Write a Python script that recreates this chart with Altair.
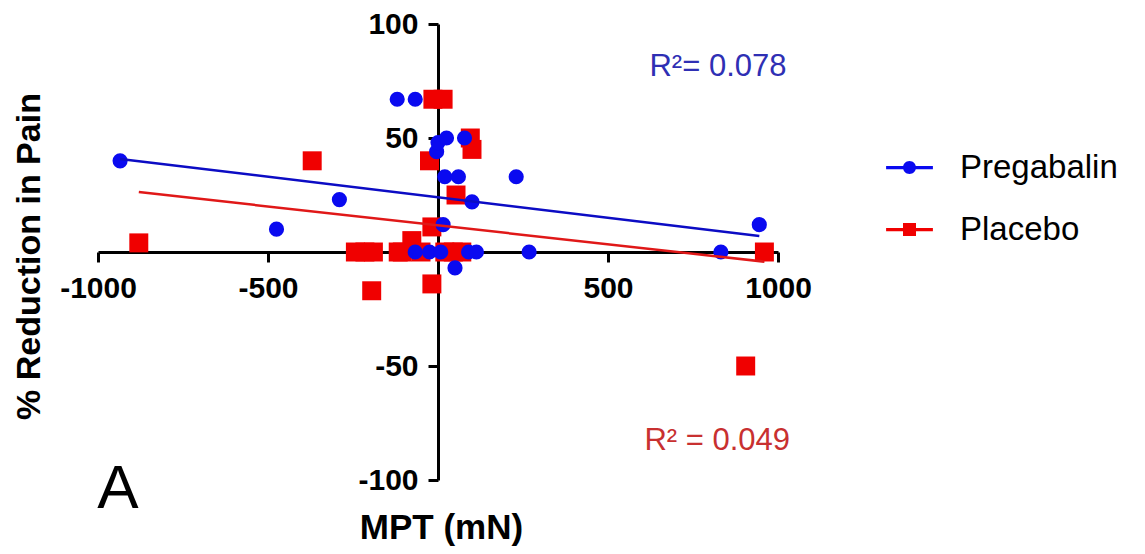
import altair as alt
import pandas as pd

# ---- data ----
groups = ["Pregabalin", "Placebo"]

preg_x = [-935, -475, -290, -120, -67, -67, -25, -4, 0, 25, 78, 20, 60, 100, 15, 8, 90, 113, 50, 230, 268, 832, 945]
preg_y = [40, 10, 23, 67, 67, 0, 0, 44, 48, 50, 50, 33, 33, 22, 12, 0, 0, 0, -7, 33, 0, 0, 12]

plac_x = [-880, -370, -15, 15, 95, 100, -25, 53, -18, -77, -243, -215, -190, -117, -105, -50, 20, 45, 70, -195, -18, 905, 960]
plac_y = [4, 40, 67, 67, 50, 45, 40, 25, 11, 5, 0, 0, 0, 0, 0, 0, 0, 0, 0, -17, -14, -50, 0]

x_ticks = [-1000, -500, 500, 1000]
y_ticks = [-100, -50, 50, 100]

r2_labels = ["R\u00b2= 0.078", "R\u00b2 = 0.049"]
r2_x = [622, 607]
r2_y = [77, -87]

point_colors = ["#0a0af0", "#f00000"]
line_colors = ["#0c0cc4", "#e01818"]
text_colors = ["#2f2fb4", "#c83030"]

# ---- tables ----
df = pd.concat([
    pd.DataFrame({"mpt": plac_x, "red": plac_y, "group": "Placebo"}),
    pd.DataFrame({"mpt": preg_x, "red": preg_y, "group": "Pregabalin"}),
], ignore_index=True)

W, H = 680, 456
FONT = "Liberation Sans"

xs = alt.Scale(domain=[-1000, 1000], nice=False, zero=False)
ys = alt.Scale(domain=[-100, 100], nice=False, zero=False)

axis_common = dict(
    grid=False, domainColor="black", domainWidth=3, tickColor="black", tickWidth=3,
    tickSize=10, labelFont=FONT, labelFontWeight="bold", labelFontSize=30, labelColor="black",
    labelOverlap=False, labelFlush=False, labelExpr="'' + datum.value",
    titleFont=FONT, titleFontWeight="bold", titleColor="black",
)

x_enc = alt.X("mpt:Q", scale=xs, axis=alt.Axis(
    values=x_ticks, offset=-H / 2, title="MPT (mN)", titleFontSize=35,
    titleX=343, titleY=286, titleBaseline="alphabetic", titleAlign="center",
    labelPadding=11, **axis_common))
y_enc = alt.Y("red:Q", scale=ys, axis=alt.Axis(
    values=y_ticks, offset=-W / 2, title="% Reduction in Pain", titleFontSize=34,
    titleAngle=270, titleX=-399, titleY=232, titleBaseline="alphabetic", titleAlign="center",
    labelPadding=10, **axis_common))

# legend symbols: a line segment with the marker in its middle
circle_line = "M-3.6,-0.25L3.6,-0.25L3.6,0.25L-3.6,0.25ZM1,0A1,1,0,1,1,-1,0A1,1,0,1,1,1,0Z"
square_line = "M-3.6,-0.25L3.6,-0.25L3.6,0.25L-3.6,0.25ZM-1,-1L1,-1L1,1L-1,1Z"

legend = alt.Legend(
    title=None, orient="none", legendX=795, legendY=127, padding=0,
    symbolSize=169, symbolOffset=0, labelOffset=34, labelFont=FONT, labelFontSize=33,
    labelColor="black", labelLimit=400, rowPadding=28, symbolStrokeWidth=0, symbolOpacity=1,
)

points = alt.Chart(df).mark_point(filled=True, opacity=1, strokeWidth=0).encode(
    x=x_enc, y=y_enc,
    color=alt.Color("group:N", scale=alt.Scale(domain=groups, range=point_colors), legend=None),
    shape=alt.Shape("group:N", scale=alt.Scale(domain=groups, range=["circle", "square"]), legend=None),
    size=alt.Size("group:N", scale=alt.Scale(type="ordinal", domain=groups, range=[230, 360]), legend=None),
)

legend_layer = alt.Chart(df).mark_point(filled=True, opacity=0, size=1, strokeWidth=0).encode(
    x=x_enc, y=y_enc,
    color=alt.Color("group:N", scale=alt.Scale(domain=groups, range=point_colors), legend=legend),
    shape=alt.Shape("group:N", scale=alt.Scale(domain=groups, range=[circle_line, square_line]), legend=legend),
)

lines = alt.Chart(df).transform_regression("mpt", "red", groupby=["group"]).mark_line(
    strokeWidth=2.5).encode(
    x=x_enc, y=y_enc,
    stroke=alt.Stroke("group:N", scale=alt.Scale(domain=groups, range=line_colors), legend=None),
)

txt_layers = []
for i in range(2):
    tdf = pd.DataFrame({"mpt": [r2_x[i]], "red": [r2_y[i]], "label": [r2_labels[i]]})
    txt_layers.append(alt.Chart(tdf).mark_text(
        align="left", baseline="alphabetic", font=FONT, fontSize=31, color=text_colors[i]
    ).encode(x=x_enc, y=y_enc, text="label:N"))

panel = alt.Chart(pd.DataFrame({"t": ["A"]})).mark_text(
    align="center", baseline="middle", font=FONT, fontSize=62, color="black"
).encode(x=alt.value(20), y=alt.value(465), text="t:N")

chart = alt.layer(points, lines, legend_layer, *txt_layers, panel).resolve_scale(
    color="independent", stroke="independent", shape="independent", size="independent"
).properties(
    width=W, height=H,
    autosize=alt.AutoSizeParams(type="none"),
    padding={"left": 90, "top": 16, "right": 359, "bottom": 66},
).configure_view(stroke=None)

chart.save("out.html", embed_options={"renderer": "svg", "actions": False})
